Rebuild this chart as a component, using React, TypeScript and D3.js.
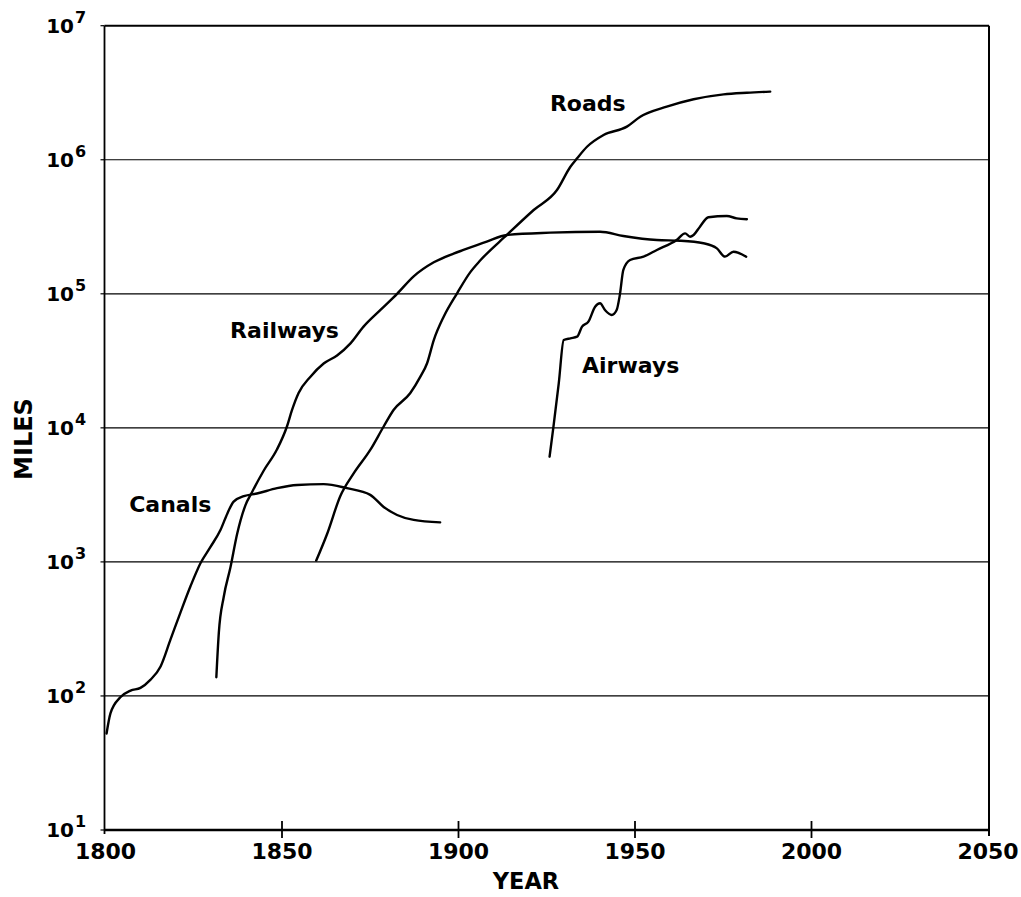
import React from "react";
import * as d3 from "d3";

type Pt = [number, number]; // [year, log10(miles)]

const canals: Pt[] = [
  [1800.3, 1.72], [1801.4, 1.87], [1804.2, 1.99], [1807.1, 2.04], [1809.9, 2.06],
  [1812.7, 2.12], [1815.6, 2.22], [1818.4, 2.42], [1821.2, 2.62], [1824.1, 2.82],
  [1826.9, 2.99], [1829.7, 3.11], [1832.6, 3.24], [1834.5, 3.36], [1836.3, 3.45],
  [1839.2, 3.49], [1842.9, 3.51], [1848.6, 3.55], [1854.3, 3.574], [1861.8, 3.58],
  [1868.4, 3.55], [1875.0, 3.50], [1878.8, 3.41], [1882.6, 3.35], [1887.3, 3.313],
  [1894.8, 3.295],
];

const railways: Pt[] = [
  [1831.4, 2.14], [1832.1, 2.47], [1833.5, 2.74], [1835.4, 2.96], [1837.3, 3.21],
  [1839.6, 3.42], [1841.5, 3.52], [1844.8, 3.68], [1848.6, 3.84], [1851.4, 4.01],
  [1852.8, 4.13], [1854.7, 4.26], [1858.0, 4.38], [1861.8, 4.48], [1865.6, 4.54],
  [1869.4, 4.63], [1873.1, 4.755], [1877.9, 4.88], [1882.6, 5.0], [1887.3, 5.13],
  [1893.0, 5.235], [1898.6, 5.30], [1901.4, 5.327], [1908.0, 5.389], [1913.7, 5.439],
  [1926.0, 5.456], [1940.1, 5.463], [1946.7, 5.431], [1956.2, 5.401], [1962.8, 5.396],
  [1969.4, 5.377], [1973.2, 5.339], [1975.5, 5.277], [1977.9, 5.314], [1981.5, 5.277],
];

const roads: Pt[] = [
  [1859.7, 3.01], [1862.8, 3.21], [1866.5, 3.49], [1870.3, 3.66], [1875.0, 3.835],
  [1878.8, 4.01], [1881.6, 4.133], [1886.3, 4.258], [1889.2, 4.382], [1891.1, 4.482],
  [1893.0, 4.655], [1895.8, 4.829], [1899.6, 5.004], [1903.3, 5.16], [1906.2, 5.25],
  [1913.7, 5.439], [1921.3, 5.625], [1927.9, 5.774], [1931.7, 5.948], [1933.6, 6.011],
  [1936.4, 6.097], [1941.1, 6.185], [1947.7, 6.247], [1951.5, 6.321], [1959.0, 6.396],
  [1966.6, 6.451], [1975.1, 6.488], [1981.7, 6.50], [1988.3, 6.508],
];

const airways: Pt[] = [
  [1925.8, 3.785], [1926.9, 4.009], [1928.4, 4.332], [1929.8, 4.655], [1931.7, 4.668],
  [1933.6, 4.68], [1935.0, 4.755], [1936.8, 4.792], [1938.7, 4.904], [1940.1, 4.929],
  [1941.5, 4.879], [1943.4, 4.842], [1944.8, 4.879], [1945.7, 4.991], [1946.7, 5.178],
  [1948.6, 5.252], [1952.4, 5.277], [1956.2, 5.327], [1961.8, 5.401], [1964.2, 5.451],
  [1965.6, 5.426], [1966.6, 5.439], [1968.4, 5.501], [1970.8, 5.571], [1976.0, 5.58],
  [1978.8, 5.563], [1981.7, 5.556],
];

const seriesLabels = [
  { name: "Roads", year: 1925.9, exp: 6.366 },
  { name: "Railways", year: 1835.3, exp: 4.67 },
  { name: "Airways", year: 1935.0, exp: 4.409 },
  { name: "Canals", year: 1806.7, exp: 3.374 },
];

const xTicks = [1800, 1850, 1900, 1950, 2000, 2050];
const yExps = [1, 2, 3, 4, 5, 6, 7];

const W = 1021;
const H = 897;
const left = 104.5;
const right = 989;
const top = 25.7;
const bottom = 830;

export default function App() {
  const x = d3.scaleLinear().domain([1800, 2050]).range([left + 1, 988]);
  const y = d3.scaleLinear().domain([1, 7]).range([bottom, top]);
  const line = d3
    .line<Pt>()
    .x((d) => x(d[0]))
    .y((d) => y(d[1]))
    .curve(d3.curveMonotoneX);
  const font = "'DejaVu Sans', Arial, Helvetica, sans-serif";
  const all = [canals, railways, roads, airways];

  return (
    <svg
      width={W}
      height={H}
      style={{ position: "absolute", left: 0, top: 0, background: "#fff" }}
      fontFamily={font}
      fontWeight="bold"
    >
      <rect x={0} y={0} width={W} height={H} fill="#fff" />
      {/* gridlines */}
      {yExps
        .filter((e) => e > 1 && e < 7)
        .map((e) => (
          <line key={"g" + e} x1={left} x2={right} y1={y(e)} y2={y(e)} stroke="#000" strokeWidth={1.2} />
        ))}
      {/* frame */}
      <line x1={left} x2={right} y1={top} y2={top} stroke="#000" strokeWidth={2} />
      <line x1={right} x2={right} y1={top} y2={bottom + 6} stroke="#000" strokeWidth={2} />
      <line x1={left} x2={left} y1={top} y2={bottom + 4} stroke="#000" strokeWidth={1.8} />
      <line x1={left} x2={right} y1={bottom} y2={bottom} stroke="#000" strokeWidth={2.6} />
      {/* y ticks */}
      {yExps.map((e) => (
        <g key={"y" + e}>
          <line x1={left - 4} x2={left} y1={y(e)} y2={y(e)} stroke="#000" strokeWidth={1.2} />
          <text x={74} y={y(e) + 7} fontSize={20} textAnchor="end" fill="#000">
            10
          </text>
          <text x={75} y={y(e) - 3} fontSize={16} textAnchor="start" fill="#000">
            {e}
          </text>
        </g>
      ))}
      {/* x ticks */}
      {xTicks.map((t) => (
        <g key={"x" + t}>
          {t > 1800 && t < 2050 && (
            <line x1={x(t)} x2={x(t)} y1={bottom - 9} y2={bottom + 8} stroke="#000" strokeWidth={1.8} />
          )}
          <text x={x(t)} y={859} fontSize={22} textAnchor="middle" fill="#000">
            {t}
          </text>
        </g>
      ))}
      {/* axis titles */}
      <text x={526} y={889} fontSize={22.5} textAnchor="middle" fill="#000">
        YEAR
      </text>
      <text
        transform={`translate(32, 439) rotate(-90)`}
        fontSize={24}
        textAnchor="middle"
        fill="#000"
      >
        MILES
      </text>
      {/* series */}
      {all.map((s, i) => (
        <path
          key={"s" + i}
          d={line(s) || ""}
          fill="none"
          stroke="#000"
          strokeWidth={2.4}
          strokeLinejoin="round"
          strokeLinecap="round"
        />
      ))}
      {seriesLabels.map((l) => (
        <text key={l.name} x={x(l.year)} y={y(l.exp)} fontSize={22} fill="#000">
          {l.name}
        </text>
      ))}
    </svg>
  );
}
